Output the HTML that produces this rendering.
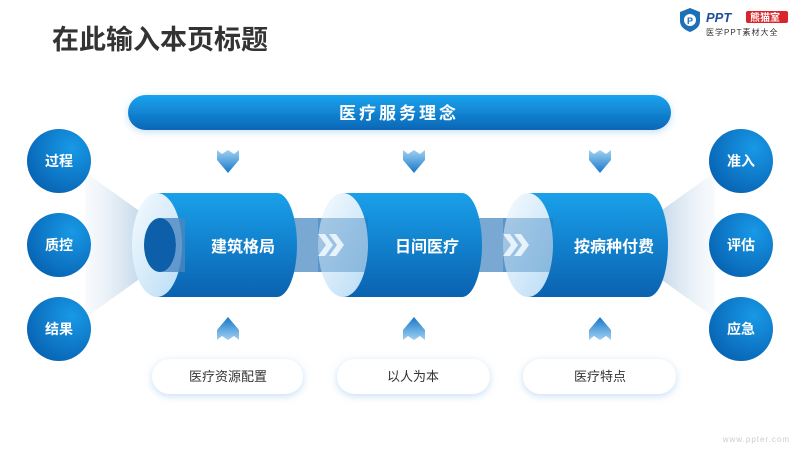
<!DOCTYPE html>
<html><head><meta charset="utf-8"><style>
body{margin:0;width:800px;height:450px;background:#fff;overflow:hidden;font-family:"Liberation Sans","Noto Sans CJK SC",sans-serif}
</style></head><body>
<svg width="800" height="450" viewBox="0 0 800 450" xmlns="http://www.w3.org/2000/svg" font-family="Liberation Sans, Noto Sans CJK SC, sans-serif">
<defs>
<linearGradient id="body" x1="0" y1="0" x2="0" y2="1"><stop offset="0" stop-color="#1aa0ea"/><stop offset="1" stop-color="#0a62b0"/></linearGradient>
<linearGradient id="rim" x1="0" y1="0" x2="1" y2="1"><stop offset="0" stop-color="#f6fbff"/><stop offset="1" stop-color="#b9dcf5"/></linearGradient>
<radialGradient id="circ" cx="0.7" cy="0.3" r="0.8"><stop offset="0" stop-color="#1899e6"/><stop offset="1" stop-color="#0763b3"/></radialGradient>
<linearGradient id="ban" x1="0" y1="0" x2="0" y2="1"><stop offset="0" stop-color="#1aa3ee"/><stop offset="1" stop-color="#0a66b6"/></linearGradient>
<linearGradient id="fanL" x1="0" y1="0" x2="1" y2="0"><stop offset="0" stop-color="#eef4fa" stop-opacity="0.4"/><stop offset="1" stop-color="#bfd4e8"/></linearGradient>
<linearGradient id="fanR" x1="1" y1="0" x2="0" y2="0"><stop offset="0" stop-color="#eef4fa" stop-opacity="0.4"/><stop offset="1" stop-color="#bfd4e8"/></linearGradient>
<linearGradient id="arr" x1="0" y1="0" x2="0" y2="1"><stop offset="0" stop-color="#9fd0f2"/><stop offset="1" stop-color="#1878c8"/></linearGradient>
<linearGradient id="arru" x1="0" y1="1" x2="0" y2="0"><stop offset="0" stop-color="#9fd0f2"/><stop offset="1" stop-color="#1878c8"/></linearGradient>
<filter id="sh" x="-20%" y="-50%" width="140%" height="200%"><feDropShadow dx="0" dy="2" stdDeviation="4" flood-color="#7fb6e6" flood-opacity="0.45"/></filter>
</defs>
<text x="52" y="49" font-size="27" font-weight="bold" fill="#333">在此输入本页标题</text>
<path d="M680 12 l10 -4 l10 4 v9 c0 6 -5 9 -10 11 c-5 -2 -10 -5 -10 -11z" fill="#1d6fb8"/>
<circle cx="690" cy="20" r="6" fill="#fff"/><text x="687" y="24" font-size="9" font-weight="bold" fill="#1d6fb8">P</text>
<text x="706" y="22" font-size="13" font-weight="bold" font-style="italic" fill="#1d4f9a">PPT</text>
<rect x="746" y="11" width="42" height="12" rx="2" fill="#d9242a"/><text x="750" y="21" font-size="10" font-weight="bold" fill="#fff">熊猫室</text>
<text x="706" y="35" font-size="8" fill="#333" letter-spacing="1">医学PPT素材大全</text>
<rect x="128" y="95" width="543" height="35" rx="17.5" fill="url(#ban)" filter="url(#sh)"/>
<text x="399" y="119" font-size="17" font-weight="bold" fill="#fff" text-anchor="middle" letter-spacing="3">医疗服务理念</text>
<polygon points="85,172 145,215 145,275 85,318" fill="url(#fanL)"/>
<polygon points="715,172 655,215 655,275 715,318" fill="url(#fanR)"/>
<rect x="160" y="218" width="395" height="54" fill="#1f6fb5" opacity="0.6"/>
<g>
<path d="M157 193 H277 A20 52 0 0 1 277 297 H157z" fill="url(#body)"/>
<ellipse cx="157" cy="245" rx="25" ry="52" fill="url(#rim)"/>
<ellipse cx="160" cy="245" rx="16" ry="27" fill="#0c5fa8"/>
<path d="M160 218 h25 v54 h-25 a16 27 0 0 0 0 -54z" fill="#4a86c0" opacity="0.8"/>
<text x="243" y="252" font-size="16" font-weight="bold" fill="#fff" text-anchor="middle">建筑格局</text>
</g>
<g>
<path d="M343 193 H462 A20 52 0 0 1 462 297 H343z" fill="url(#body)"/>
<ellipse cx="343" cy="245" rx="25" ry="52" fill="url(#rim)"/>
<rect x="318" y="218" width="50" height="54" fill="#1f6fb5" opacity="0.35"/>
<text x="427" y="252" font-size="16" font-weight="bold" fill="#fff" text-anchor="middle">日间医疗</text>
</g>
<g>
<path d="M528 193 H648 A20 52 0 0 1 648 297 H528z" fill="url(#body)"/>
<ellipse cx="528" cy="245" rx="25" ry="52" fill="url(#rim)"/>
<rect x="503" y="218" width="50" height="54" fill="#1f6fb5" opacity="0.35"/>
<text x="614" y="252" font-size="16" font-weight="bold" fill="#fff" text-anchor="middle">按病种付费</text>
</g>
<g fill="#e6f2fc">
<path d="M318 234 l7 0 l8 11 l-8 11 l-7 0 l8 -11z"/><path d="M329 234 l7 0 l8 11 l-8 11 l-7 0 l8 -11z"/>
<path d="M503 234 l7 0 l8 11 l-8 11 l-7 0 l8 -11z"/><path d="M514 234 l7 0 l8 11 l-8 11 l-7 0 l8 -11z"/>
</g>
<g fill="url(#arr)">
<path d="M217 150 l5 4 l6 -4 l6 4 l5 -4 v10 l-11 13 l-11 -13z"/>
<path d="M403 150 l5 4 l6 -4 l6 4 l5 -4 v10 l-11 13 l-11 -13z"/>
<path d="M589 150 l5 4 l6 -4 l6 4 l5 -4 v10 l-11 13 l-11 -13z"/>
</g>
<g fill="url(#arru)">
<path d="M217 340 l5 -4 l6 4 l6 -4 l5 4 v-10 l-11 -13 l-11 13z"/>
<path d="M403 340 l5 -4 l6 4 l6 -4 l5 4 v-10 l-11 -13 l-11 13z"/>
<path d="M589 340 l5 -4 l6 4 l6 -4 l5 4 v-10 l-11 -13 l-11 13z"/>
</g>
<g filter="url(#sh)" fill="#fff">
<rect x="152" y="359" width="151" height="35" rx="17.5"/>
<rect x="337" y="359" width="153" height="35" rx="17.5"/>
<rect x="523" y="359" width="153" height="35" rx="17.5"/>
</g>
<g font-size="13" fill="#333" text-anchor="middle">
<text x="228" y="381">医疗资源配置</text>
<text x="413" y="381">以人为本</text>
<text x="600" y="381">医疗特点</text>
</g>
<g fill="url(#circ)">
<circle cx="59" cy="161" r="32"/><circle cx="59" cy="245" r="32"/><circle cx="59" cy="329" r="32"/>
<circle cx="741" cy="161" r="32"/><circle cx="741" cy="245" r="32"/><circle cx="741" cy="329" r="32"/>
</g>
<g font-size="14" font-weight="bold" fill="#fff" text-anchor="middle">
<text x="59" y="166">过程</text><text x="59" y="250">质控</text><text x="59" y="334">结果</text>
<text x="741" y="166">准入</text><text x="741" y="250">评估</text><text x="741" y="334">应急</text>
</g>
<text x="790" y="442" font-size="8" fill="#ccc" text-anchor="end" letter-spacing="1">www.ppter.com</text>
</svg>
</body></html>
